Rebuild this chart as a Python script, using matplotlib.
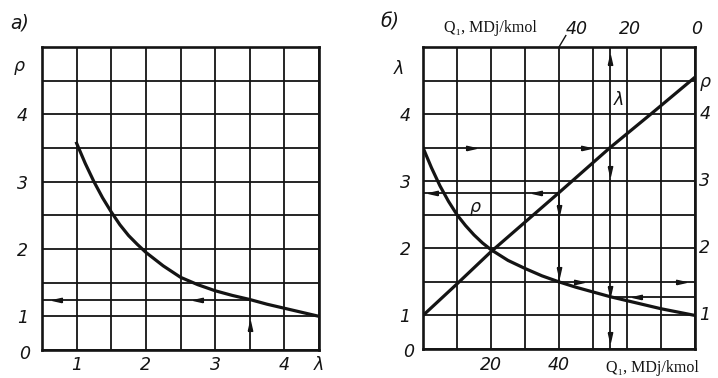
import matplotlib.pyplot as plt

# panel a): p against lambda
lam = [1.0, 1.125, 1.25, 1.375, 1.5, 1.625, 1.75, 1.875, 2.0, 2.25, 2.5, 2.75,
       3.0, 3.25, 3.5, 3.75, 4.0, 4.25, 4.5]
p_of_lam = [3.57, 3.27, 3.0, 2.76, 2.55, 2.36, 2.2, 2.07, 1.95, 1.75, 1.58, 1.47,
            1.38, 1.31, 1.25, 1.18, 1.12, 1.06, 1.0]
a_xticks = [1, 2, 3, 4, 4.5]
a_xlabels = ['1', '2', '3', '4', 'λ']
a_yticks = [1, 2, 3, 4]

# panel б): lambda and p against Q1
q_curve = [0, 2.5, 5, 7.5, 10, 12.5, 15, 17.5, 20, 25, 30, 35, 40, 45, 50, 55,
           60, 65, 70, 75, 80]
lam_of_q = [3.5, 3.2, 2.93, 2.7, 2.5, 2.34, 2.2, 2.08, 1.98, 1.82, 1.7, 1.59, 1.5,
            1.42, 1.35, 1.28, 1.22, 1.16, 1.1, 1.05, 1.0]
q_line = [0, 10, 20, 40, 55, 67, 80]
p_of_q = [1.0, 1.47, 1.95, 2.83, 3.5, 4.0, 4.55]
b_xticks = [20, 40]
b_top_ticks = [40, 20, 0]
b_yticks = [1, 2, 3, 4]

ink = '#141414'
W, H = 718, 378
num = dict(fontsize=12.5, style='italic', color=ink, family='DejaVu Sans')
serif = dict(fontsize=11.5, color=ink, family=['Liberation Serif', 'DejaVu Serif'])

heads = {
    'r': [(-1, -0.45), (1, 0), (-1, 0.45), (-1, -0.45)],
    'l': [(1, -0.45), (-1, 0), (1, 0.45), (1, -0.45)],
    'u': [(-0.45, -1), (0, 1), (0.45, -1), (-0.45, -1)],
    'd': [(-0.45, 1), (0, -1), (0.45, 1), (-0.45, 1)],
}


def head(ax, x, y, d):
    ax.plot(x, y, marker=heads[d], ms=7, color=ink, lw=0, zorder=6, clip_on=False)


def frame(ax):
    ax.grid(True, which='both', color=ink, lw=1.3)
    ax.set_axisbelow(True)
    for s in ax.spines.values():
        s.set_linewidth(1.9)
        s.set_color(ink)
    ax.tick_params(which='both', length=0, colors=ink)
    for t in ax.get_xticklabels() + ax.get_yticklabels():
        t.set_fontsize(num['fontsize'])
        t.set_style('italic')


fig = plt.figure(figsize=(W / 100, H / 100), dpi=100)

# ---------------- a) ----------------
axA = fig.add_axes([42 / W, 1 - 350 / H, 277 / W, 303 / H])
axA.set_xlim(0.5, 4.5)
axA.set_ylim(0.5, 5)
axA.set_xticks(a_xticks)
axA.set_xticklabels(a_xlabels)
axA.set_xticks([x / 2 for x in range(1, 10)], minor=True)
axA.set_yticks(a_yticks)
axA.set_yticks([y / 2 for y in range(1, 11)], minor=True)
frame(axA)
axA.tick_params(axis='y', pad=10)
axA.tick_params(axis='x', pad=4)

axA.plot(lam, p_of_lam, color=ink, lw=2.3, zorder=4, solid_joinstyle='round')
p_read = p_of_lam[lam.index(3.5)]
axA.plot([0.5, 3.5], [p_read, p_read], color=ink, lw=1.3, zorder=3)
head(axA, 0.72, p_read, 'l')
head(axA, 2.75, p_read, 'l')
head(axA, 3.5, 0.85, 'u')

axA.text(0.17, 4.72, 'ρ', ha='center', va='center', clip_on=False, **num)
axA.text(0.25, 0.44, '0', ha='center', va='center', clip_on=False, **num)
fig.text(20 / W, 1 - 23 / H, 'а)', ha='center', va='center',
         **{**num, 'fontsize': 13.5})

# ---------------- б) ----------------
axB = fig.add_axes([423 / W, 1 - 349 / H, 272 / W, 302 / H])
axB.set_xlim(0, 80)
axB.set_ylim(0.5, 5)
axB.set_xticks(b_xticks)
axB.set_xticks(range(0, 81, 10), minor=True)
axB.set_yticks(b_yticks)
axB.set_yticks([y / 2 for y in range(1, 11)], minor=True)
frame(axB)
axB.tick_params(axis='y', pad=9)
axB.tick_params(axis='x', pad=5)

axB.plot(q_curve, lam_of_q, color=ink, lw=2.3, zorder=4, solid_joinstyle='round')
axB.plot(q_line, p_of_q, color=ink, lw=2.3, zorder=4)

# read-off construction
q_a, q_b = 55, 40
p_b = p_of_q[q_line.index(q_b)]
lam_a = lam_of_q[q_curve.index(q_a)]
lam_b = lam_of_q[q_curve.index(q_b)]
axB.plot([q_a, q_a], [0.5, 5], color=ink, lw=1.3, zorder=3)
axB.plot([0, q_b], [p_b, p_b], color=ink, lw=1.3, zorder=3)
axB.plot([q_b, q_b], [p_b, lam_b], color=ink, lw=1.3, zorder=3)
axB.plot([q_a, 80], [lam_a, lam_a], color=ink, lw=1.3, zorder=3)
head(axB, 14, 3.5, 'r')
head(axB, 48, 3.5, 'r')
head(axB, q_a, 4.8, 'u')
head(axB, q_a, 3.15, 'd')
head(axB, q_a, 1.36, 'd')
head(axB, q_a, 0.68, 'd')
head(axB, 3, p_b, 'l')
head(axB, 33.5, p_b, 'l')
head(axB, q_b, 2.57, 'd')
head(axB, q_b, 1.64, 'd')
head(axB, 46, lam_b, 'r')
head(axB, 76, lam_b, 'r')
head(axB, 63, lam_a, 'l')

axB.text(15.3, 2.62, 'ρ', ha='center', va='center', **num)
axB.text(57.5, 4.21, 'λ', ha='center', va='center', **num)
axB.text(-7.1, 4.67, 'λ', ha='center', va='center', clip_on=False, **num)
axB.text(-4.1, 0.45, '0', ha='center', va='center', clip_on=False, **num)
axB.text(82.9, 4.48, 'ρ', ha='center', va='center', clip_on=False, **num)
for v in b_yticks:
    axB.text(82.9, v, str(v), ha='center', va='center', clip_on=False, **num)

# top Q1 scale (reversed)
top_pos = {40: 45.3, 20: 60.9, 0: 80.6}
for v in b_top_ticks:
    axB.text(top_pos[v], 5.27, str(v), ha='center', va='center', clip_on=False, **num)
axB.plot([40, 42], [5.0, 5.17], color=ink, lw=1.0, clip_on=False)
axB.text(19.7, 5.29, 'Q₁, MDj/kmol', ha='center', va='center', clip_on=False, **serif)
axB.text(67.5, 0.21, 'Q₁, MDj/kmol', ha='center', va='center', clip_on=False, **serif)
fig.text(390 / W, 1 - 22 / H, 'б)', ha='center', va='center',
         **{**num, 'fontsize': 13.5})

fig.savefig('out.png', dpi=100, facecolor='white')
